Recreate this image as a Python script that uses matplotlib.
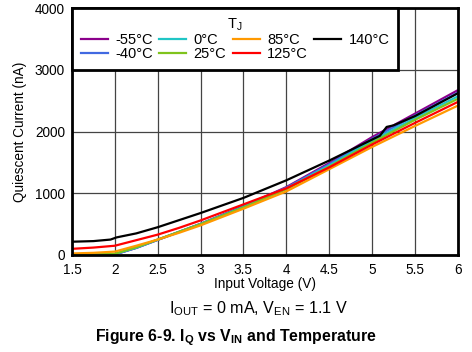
import matplotlib
matplotlib.use("Agg")
import matplotlib.pyplot as plt

plt.rcParams['font.family'] = ['Liberation Sans', 'DejaVu Sans']
plt.rcParams['mathtext.default'] = 'regular'

# input voltage (V)
vin = [1.5, 1.75, 2.0, 2.25, 2.5, 2.75, 3.0, 3.5, 4.0, 4.5, 5.0, 5.5, 6.0]

# quiescent current (nA) per temperature
iq_m55 = [0, 0, 10, 115, 245, 375, 505, 790, 1100, 1490, 1910, 2290, 2670]
iq_m40 = [0, 0, 10, 115, 245, 375, 505, 785, 1090, 1470, 1880, 2260, 2630]
iq_0 = [0, 2, 15, 120, 250, 375, 500, 775, 1075, 1450, 1850, 2220, 2570]
iq_25 = [5, 8, 20, 125, 250, 375, 500, 770, 1065, 1430, 1820, 2190, 2530]
iq_85 = [25, 35, 55, 150, 250, 360, 480, 750, 1030, 1390, 1750, 2090, 2420]
iq_125 = [100, 120, 150, 240, 330, 440, 560, 820, 1080, 1420, 1790, 2140, 2480]

# 140C curve has its own sample points (steps near 2 V and 5.1 V)
vin_140 = [1.5, 1.75, 1.95, 2.02, 2.25, 2.5, 3.0, 3.5, 4.0, 4.5, 5.0, 5.09, 5.17, 5.25, 5.5, 6.0]
iq_140 = [215, 225, 250, 285, 350, 450, 680, 925, 1210, 1530, 1870, 1930, 2075, 2100, 2250, 2620]

series = [
    ("-55°C", vin, iq_m55, "#8B008B"),
    ("-40°C", vin, iq_m40, "#4169E1"),
    ("0°C", vin, iq_0, "#20C5C5"),
    ("25°C", vin, iq_25, "#7FC31C"),
    ("85°C", vin, iq_85, "#FF9900"),
    ("125°C", vin, iq_125, "#FF0000"),
    ("140°C", vin_140, iq_140, "#000000"),
]

fig = plt.figure(figsize=(4.72, 3.52), dpi=100)
ax = fig.add_axes([0.1525, 0.2756, 0.8175, 0.7014])

for lab, x, y, c in series:
    ax.plot(x, y, color=c, lw=1.6, label=lab)

ax.set_xlim(1.5, 6)
ax.set_ylim(0, 4000)
ax.set_xticks([1.5, 2, 2.5, 3, 3.5, 4, 4.5, 5, 5.5, 6])
ax.set_xticklabels(["1.5", "2", "2.5", "3", "3.5", "4", "4.5", "5", "5.5", "6"])
ax.set_yticks([0, 1000, 2000, 3000, 4000])
ax.grid(True, color="#444444", lw=0.9)
ax.tick_params(axis="x", length=0, labelsize=9.8, pad=6)
ax.tick_params(axis="y", length=0, labelsize=9.8, pad=5)
for s in ax.spines.values():
    s.set_linewidth(2)

ax.set_xlabel("Input Voltage (V)", fontsize=9.8, labelpad=0)
ax.set_ylabel("Quiescent Current (nA)", fontsize=9.8, labelpad=6)

leg = ax.legend(ncol=4, title="T$_J$", loc="upper left", bbox_to_anchor=(0, 1),
                borderaxespad=0, fontsize=10.5, title_fontsize=10.5,
                handlelength=1.85, handletextpad=0.5, columnspacing=0.45,
                labelspacing=0.0, fancybox=False, framealpha=1, borderpad=0.6)
leg.get_frame().set_edgecolor("black")
leg.get_frame().set_linewidth(2)

fig.text(0.5475, 0.122, "I$_{OUT}$ = 0 mA, V$_{EN}$ = 1.1 V", ha="center", va="center", fontsize=11.6)
fig.text(0.5, 0.042, "Figure 6-9. I$_Q$ vs V$_{IN}$ and Temperature", ha="center", va="center",
         fontsize=11.4, fontweight="bold")

fig.savefig("out.png", dpi=100)
